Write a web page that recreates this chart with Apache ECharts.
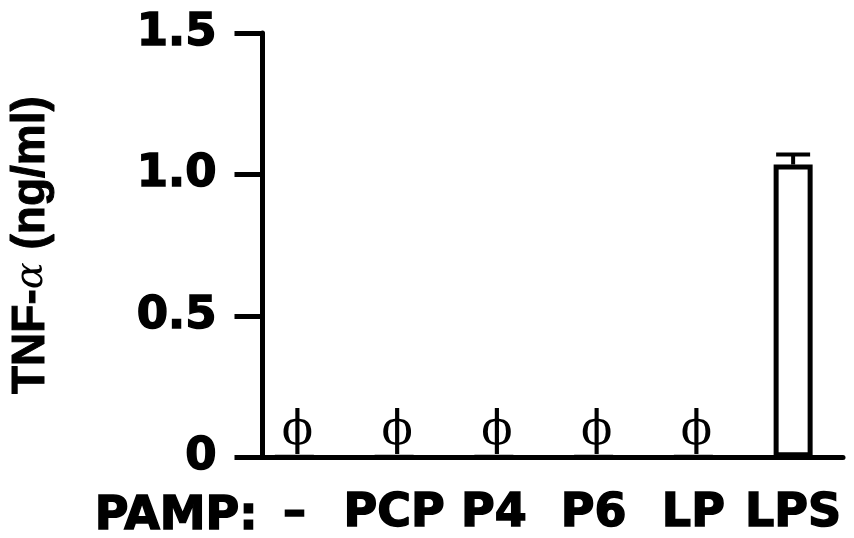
<!DOCTYPE html>
<html>
<head>
<meta charset="utf-8">
<script src="https://cdn.jsdelivr.net/npm/echarts@6/dist/echarts.min.js"></script>
<style>html,body{margin:0;padding:0;background:#fff;}#c{width:854px;height:538px;}</style>
</head>
<body>
<div id="c"></div>
<script>
const categories = ['–', 'PCP', 'P4', 'P6', 'LP', 'LPS'];
const tnfValues = [0, 0, 0, 0, 0, 1.035];
const semValues = [0, 0, 0, 0, 0, 0.035];
const notDetected = [true, true, true, true, true, false];
const yTicks = [0, 0.5, 1.0, 1.5];

const chart = echarts.init(document.getElementById('c'), null, {renderer: 'canvas'});
const numFont = 'DejaVu Sans';
chart.setOption({
  animation: false,
  grid: {left: 240, right: 11, top: 33, bottom: 78},
  graphic: [{
    type: 'text', left: 94, top: 493,
    style: {text: 'PAMP:', font: 'bold 46px "DejaVu Sans"', fill: '#000', stroke: '#000', lineWidth: 1.5}
  }],
  xAxis: {
    type: 'category', data: categories,
    axisLine: {lineStyle: {color: '#000', width: 5}},
    axisTick: {show: false},
    axisLabel: {color: '#000', fontFamily: numFont, fontWeight: 'bold', fontSize: 46, margin: 34, interval: 0,
      textBorderColor: '#000', textBorderWidth: 1.5}
  },
  yAxis: {
    type: 'value', min: yTicks[0], max: yTicks[yTicks.length - 1], interval: 0.5,
    offset: -18,
    axisLine: {show: true, lineStyle: {color: '#000', width: 5}},
    axisTick: {show: true, length: 28, lineStyle: {color: '#000', width: 5}},
    splitLine: {show: false},
    axisLabel: {
      color: '#000', fontFamily: numFont, fontWeight: 'bold', fontSize: 45, margin: 46,
      padding: [0, 0, 22, 0], textBorderColor: '#000', textBorderWidth: 1.5,
      formatter: v => v === 0 ? '0' : v.toFixed(1)
    },
    name: '{b|TNF-}{a|α}{b| (ng/ml)}',
    nameLocation: 'middle', nameRotate: 90, nameGap: 208,
    nameTextStyle: {
      rich: {
        b: {fontFamily: 'Liberation Sans', fontWeight: 'bold', fontSize: 46, color: '#000', textBorderColor: '#000', textBorderWidth: 1},
        a: {fontFamily: 'DejaVu Serif', fontStyle: 'italic', fontWeight: 'normal', fontSize: 40, color: '#000'}
      }
    }
  },
  series: [{
    type: 'bar', data: tnfValues, barWidth: 39,
    itemStyle: {color: '#fff', borderColor: '#000', borderWidth: 5}
  }, {
    type: 'custom',
    data: tnfValues.map((v, i) => [i, v, semValues[i]]),
    renderItem: (params, api) => {
      const i = api.value(0), v = api.value(1), e = api.value(2);
      if (!e) return null;
      const p0 = api.coord([i, v]);
      const p1 = api.coord([i, v + e]);
      return {
        type: 'group', children: [
          {type: 'line', shape: {x1: p0[0], y1: p0[1], x2: p1[0], y2: p1[1]}, style: {stroke: '#000', lineWidth: 4}},
          {type: 'line', shape: {x1: p1[0] - 17, y1: p1[1], x2: p1[0] + 17, y2: p1[1]}, style: {stroke: '#000', lineWidth: 4}}
        ]
      };
    },
    z: 1
  }, {
    type: 'custom',
    data: tnfValues.map((v, i) => [i, v, notDetected[i] ? 1 : 0]),
    renderItem: (params, api) => {
      if (!api.value(2)) return null;
      const p = api.coord([api.value(0), api.value(1)]);
      return {
        type: 'text', x: p[0] + 3, y: p[1] - 25,
        style: {text: 'ϕ', fill: '#000', font: '46px "DejaVu Serif"', align: 'center', verticalAlign: 'middle'}
      };
    }
  }]
});
</script>
</body>
</html>
